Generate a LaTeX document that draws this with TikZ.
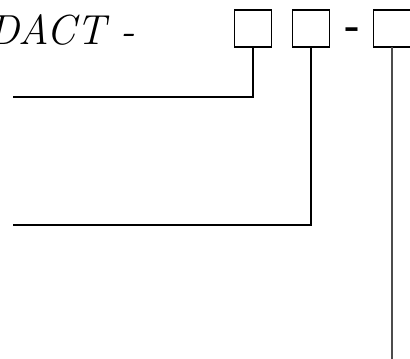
\documentclass[tikz,border=0pt]{standalone}
\usetikzlibrary{positioning}
\begin{document}
\begin{tikzpicture}[x=1pt, y=1pt, line width=1.3pt, every node/.style={inner sep=0pt, outer sep=0pt}, cell/.style={draw, minimum width=37pt, minimum height=37pt}]
                    \useasboundingbox (0,0) rectangle (410,359);
                    \node[anchor=base east, font=\itshape\fontsize{42}{42}\selectfont](title) at (135,314) {DACT -};
                    \node[cell, anchor=north west](ca) at (234.5,349) {};
                    \node[cell, right=21pt of ca](cb){};
                    \node[cell, right=44pt of cb](cc){};
                    \node[anchor=base, font=\bfseries\fontsize{40}{40}\selectfont](dash) at (352.5,320) {-};
                    \coordinate (ta) at (13,262);
                    \coordinate (tb) at (13,134);
                    \coordinate (tc) at (0,-2);
                    \draw (ca.south) |- (ta);
                    \draw (cb.south) |- (tb);
                    \draw[black!70] (cc.south) -- (cc.south |- tc);
                \end{tikzpicture}
\end{document}
